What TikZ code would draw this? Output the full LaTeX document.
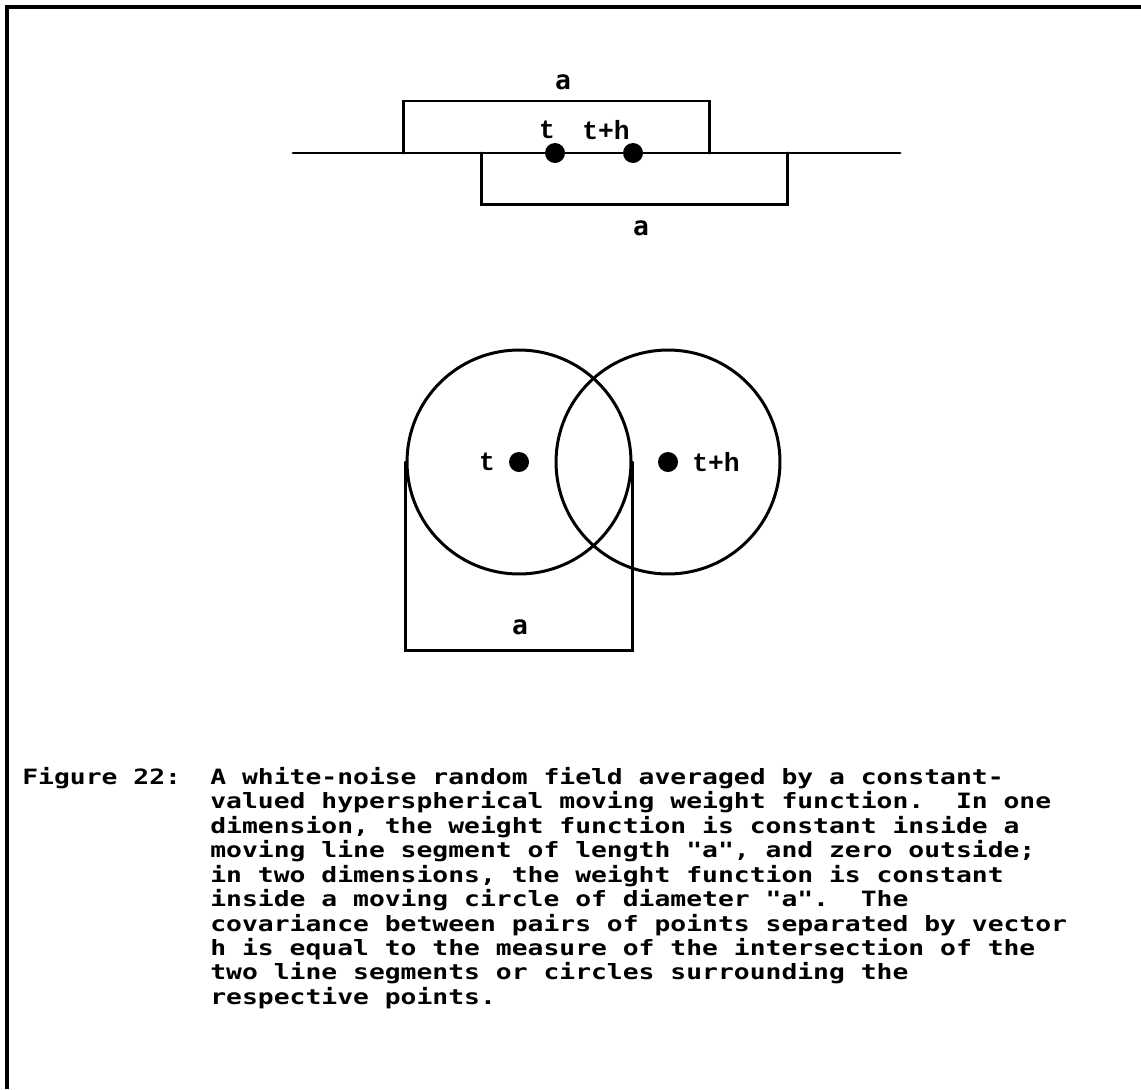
\documentclass[tikz,border=0pt]{standalone}
\usepackage{fontspec}
\usepackage{tikz}
\setmonofont{DejaVu Sans Mono}
\newfontfamily\capfont[FakeStretch=1.25]{DejaVu Sans Mono}
\newfontfamily\labfont{Liberation Mono}
\newcommand\capstyle{\capfont\bfseries\frenchspacing
  \fontsize{12}{13.9}\selectfont\setlength{\lineskiplimit}{-20pt}}
\usetikzlibrary{
    arrows.meta,
    positioning,
    calc
}
\tikzset{
  seg/.style     = {line width=1.7pt, line cap=round},
  frame/.style   = {line width=2.2pt},
  dot/.style     = {circle, fill, inner sep=0pt, minimum size=0.4cm},
  disc/.style    = {circle, draw, line width=1.7pt, inner sep=0pt,
                    minimum size=4.48cm},
  lab/.style     = {font=\labfont\bfseries\fontsize{15}{15}\selectfont,
                    inner sep=0pt},
  alab/.style    = {font=\ttfamily\bfseries\fontsize{15}{15}\selectfont,
                    inner sep=0pt},
  captxt/.style  = {font=\capstyle, inner sep=0pt, align=left}
}

\begin{document}
\begin{tikzpicture}[x=0.02cm, y=-0.02cm]
  \useasboundingbox (0,0) rectangle (1141,1089);
  \draw[frame] (1141,7) -- (7,7) -- (7,1089);

  % one dimension
  \coordinate (lineL) at (293,153);
  \coordinate (lineR) at (900,153);
  \draw[seg] (lineL) -- (lineR);
  \draw[seg] (403,153) |- (709,101) -- (709,153);
  \draw[seg] (481,153) |- (787,204) -- (787,153);

  \node[dot] (p1) at (555,153) {};
  \node[dot] (p2) at (633,153) {};
  \node[lab]  (lt1) at (547,130) {t};
  \node[lab]  (lh1) at (606,130) {t+h};
  \node[alab] (a1)  at (563,82)  {a};
  \node[alab] (a2)  at (641,228) {a};

  % two dimensions
  \node[disc] (c1) at (519,462) {};
  \node[disc] (c2) at (668,462) {};
  \node[dot] (q1) at (c1.center) {};
  \node[dot] (q2) at (c2.center) {};
  \node[lab] (lt2) at (487,462) {t};
  \node[lab] (lh2) at (716,462) {t+h};
  \draw[seg] (c1.west) |- ($(c1.east)+(0,188)$) -- (c1.east);
  \node[alab] (a3) at (520,627) {a};

  % caption
  \node[captxt, anchor=north west] (fig) at (22,767) {Figure 22:};
  \node[captxt, anchor=north west] (cap) at (210,767) {%
    A white-noise random field averaged by a constant-\\
    valued hyperspherical moving weight function.~~In one\\
    dimension, the weight function is constant inside a\\
    moving line segment of length "a", and zero outside;\\
    in two dimensions, the weight function is constant\\
    inside a moving circle of diameter "a".~~The\\
    covariance between pairs of points separated by vector\\
    h is equal to the measure of the intersection of the\\
    two line segments or circles surrounding the\\
    respective points.};
\end{tikzpicture}
\end{document}
